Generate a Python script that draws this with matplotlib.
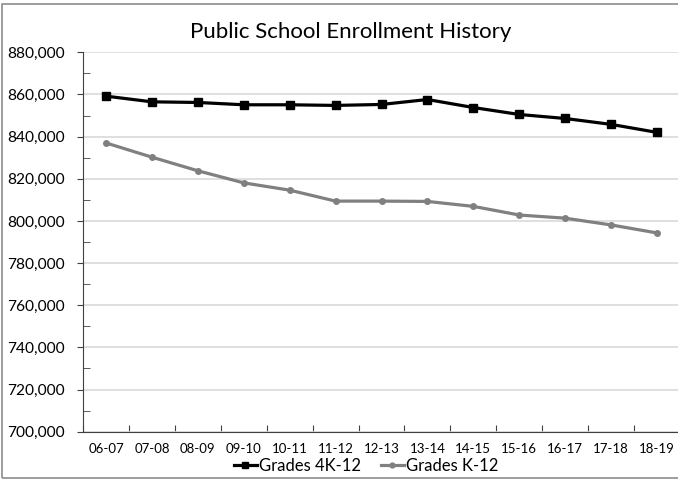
import numpy as np
import matplotlib
matplotlib.use("Agg")
import matplotlib.pyplot as plt
from matplotlib.ticker import FuncFormatter, MultipleLocator
from matplotlib.patches import Rectangle
from matplotlib.lines import Line2D

years = ["06-07", "07-08", "08-09", "09-10", "10-11", "11-12", "12-13",
         "13-14", "14-15", "15-16", "16-17", "17-18", "18-19"]
grades_4k12 = [859200, 856500, 856200, 855100, 855100, 854800, 855250,
               857600, 853800, 850500, 848600, 845800, 842000]
grades_k12 = [837000, 830250, 823800, 818050, 814600, 809400, 809400,
              809250, 806900, 802800, 801300, 798100, 794300]

plt.rcParams['font.family'] = ['Lato', 'DejaVu Sans']

fig = plt.figure(figsize=(6.78, 4.79), dpi=100)
ax = fig.add_axes([83 / 678, 1 - 431.7 / 479, (680 - 83) / 678, (431.7 - 52.3) / 479])

x = np.arange(len(years))
ax.plot(x, grades_4k12, color="black", lw=2.3, marker="s", ms=5.2, zorder=3)
ax.plot(x, grades_k12, color="#808080", lw=2.3, marker="o", ms=4, zorder=3)

ax.set_xlim(-0.5, len(years) - 0.5)
ax.set_ylim(700000, 880000)
ax.yaxis.set_major_locator(MultipleLocator(20000))
ax.yaxis.set_minor_locator(MultipleLocator(10000))
ax.yaxis.set_major_formatter(FuncFormatter(lambda v, p: f"{v:,.0f}"))
ax.grid(axis="y", which="major", color="#d9d9d9", lw=1.2)
ax.set_axisbelow(True)

# category ticks sit between the labels
ax.set_xticks(np.arange(len(years) + 1) - 0.5)
ax.set_xticklabels([])
ax.set_xticks(x, minor=True)
ax.set_xticklabels(years, minor=True, fontsize=9.5)
ax.tick_params(axis="x", which="major", direction="in", length=5, color="#404040")
ax.tick_params(axis="x", which="minor", length=0, pad=8)
ax.tick_params(axis="y", which="major", direction="out", length=4, labelsize=11.2, pad=9, color="#404040")
ax.tick_params(axis="y", which="minor", direction="in", length=5, color="#404040")

for side in ["top", "right"]:
    ax.spines[side].set_visible(False)
ax.spines["left"].set_color("#404040")
ax.spines["bottom"].set_color("#404040")

fig.text(351 / 678, 1 - 32 / 479, "Public School Enrollment History",
         ha="center", va="center", fontsize=16)

handles = [Line2D([], [], color="black", lw=2.3, marker="s", ms=4.5),
           Line2D([], [], color="#808080", lw=2.3, marker="o", ms=3.5)]
fig.legend(handles, ["Grades 4K-12", "Grades K-12"], loc="center",
           bbox_to_anchor=(366 / 678, 1 - 466 / 479), ncol=2, frameon=False,
           fontsize=12, handlelength=1.4, handletextpad=0.1, columnspacing=1.2)

# outer chart frame
fig.patches.append(Rectangle((2 / 678, 1 / 479), 1.1, 1 - 4.5 / 479,
                             transform=fig.transFigure, fill=False,
                             edgecolor="#8c8c8c", lw=1.2))

fig.savefig("out.png", dpi=100)
